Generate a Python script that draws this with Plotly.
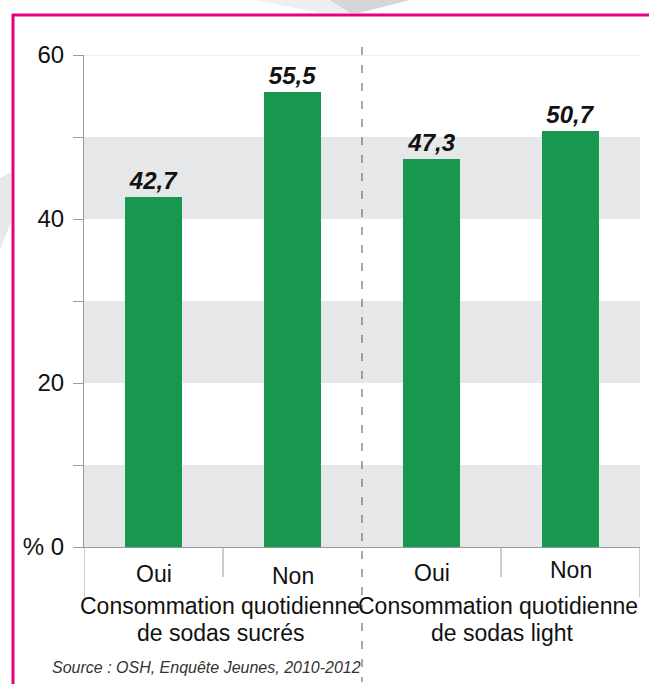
import plotly.graph_objects as go

# Data
categories = ["Oui", "Non", "Oui", "Non"]
values = [42.7, 55.5, 47.3, 50.7]
value_labels = ["42,7", "55,5", "47,3", "50,7"]
group_titles = [
    ("Consommation quotidienne", "de sodas sucrés"),
    ("Consommation quotidienne", "de sodas light"),
]
y_ticks = [0, 10, 20, 30, 40, 50, 60]
y_ticktext = ["% 0", "", "20", "", "40", "", "60"]
bands = [(0, 10), (20, 30), (40, 50)]
source = "Source : OSH, Enquête Jeunes, 2010-2012"

W, H = 649, 684
L, R, T, B = 84, 9, 55, 137
PW, PH = W - L - R, H - T - B

GREEN = "#18974f"
AXIS = "#9a9a9a"
TEXT = "#111111"
FONT = "Liberation Sans, Arial, sans-serif"


def px(x):
    return (x - L) / PW


def py(y):
    return (H - B - y) / PH


fig = go.Figure()
fig.add_trace(go.Bar(
    x=list(range(len(values))),
    y=values,
    width=0.41,
    marker=dict(color=GREEN, line=dict(width=0)),
    text=value_labels,
    textposition="outside",
    textfont=dict(family=FONT, size=24, color=TEXT),
    texttemplate="<b><i>%{text}</i></b>",
    cliponaxis=False,
    hoverinfo="skip",
))

shapes = []
# alternating grey bands
for lo, hi in bands:
    shapes.append(dict(type="rect", xref="paper", yref="y", x0=0, x1=1, y0=lo, y1=hi,
                       fillcolor="#e6e7e8", line=dict(width=0), layer="below"))
# top grid line
shapes.append(dict(type="line", xref="paper", yref="y", x0=0, x1=1, y0=60, y1=60,
                   line=dict(color="#e0e0e0", width=1), layer="below"))
# category separators below the baseline
for xv, depth in [(-0.5, 597), (0.5, 577), (2.5, 577), (3.5, 597)]:
    shapes.append(dict(type="line", xref="x", yref="paper", x0=xv, x1=xv,
                       y0=0, y1=py(depth), line=dict(color=AXIS, width=1)))
# dashed divider between the two groups
shapes.append(dict(type="line", xref="x", yref="paper", x0=1.5, x1=1.5,
                   y0=py(47), y1=py(682), line=dict(color="#555555", width=1, dash="8px,10px")))
# frame
shapes.append(dict(type="line", xref="paper", yref="paper", x0=px(13), x1=px(13),
                   y0=py(14), y1=py(H + 5), line=dict(color="#e5007d", width=3)))
shapes.append(dict(type="line", xref="paper", yref="paper", x0=px(12), x1=px(W + 5),
                   y0=py(15), y1=py(15), line=dict(color="#e5007d", width=3)))
# grey decorative swooshes
def poly(pts):
    d = "M " + " L ".join(f"{px(a):.5f},{py(b):.5f}" for a, b in pts) + " Z"
    return d

shapes.append(dict(type="path", xref="paper", yref="paper",
                   path=poly([(255, 0), (410, 0), (360, 13), (320, 13)]),
                   fillcolor="#efefef", line=dict(width=0), layer="below"))
shapes.append(dict(type="path", xref="paper", yref="paper",
                   path=poly([(330, 0), (410, 0), (358, 13), (350, 13)]),
                   fillcolor="#d6d6d6", line=dict(width=0), layer="below"))
shapes.append(dict(type="path", xref="paper", yref="paper",
                   path=poly([(0, 178), (11, 172), (11, 222), (0, 250)]),
                   fillcolor="#e8e8e8", line=dict(width=0), layer="below"))

annotations = []
label_y = [574, 576, 573, 570]
for i, (c, yy) in enumerate(zip(categories, label_y)):
    annotations.append(dict(x=i, xref="x", y=py(yy), yref="paper", text=c, showarrow=False,
                            xanchor="center", yanchor="middle",
                            font=dict(family=FONT, size=23, color=TEXT)))
for g, (l1, l2) in enumerate(group_titles):
    xc = 0.5 + 2 * g
    annotations.append(dict(x=xc, xref="x", y=py(606), yref="paper", text=l1, showarrow=False,
                            xanchor="center", yanchor="middle", xshift=-3,
                            font=dict(family=FONT, size=23, color=TEXT)))
    annotations.append(dict(x=xc, xref="x", y=py(633), yref="paper", text=l2, showarrow=False,
                            xanchor="center", yanchor="middle", xshift=-3 + 4 * g,
                            font=dict(family=FONT, size=23, color=TEXT)))
annotations.append(dict(x=px(50), xref="paper", y=py(667), yref="paper", text=f"<i>{source}</i>",
                        showarrow=False, xanchor="left", yanchor="middle",
                        font=dict(family=FONT, size=16, color="#333333")))

fig.update_layout(
    width=W, height=H,
    margin=dict(l=L, r=R, t=T, b=B, pad=0),
    paper_bgcolor="white", plot_bgcolor="white",
    showlegend=False,
    shapes=shapes,
    annotations=annotations,
    xaxis=dict(range=[-0.5, 3.5], showticklabels=False, ticks="", showgrid=False,
               zeroline=False, showline=True, linecolor=AXIS, linewidth=1, fixedrange=True),
    yaxis=dict(range=[0, 60], tickvals=y_ticks, ticktext=y_ticktext, ticks="outside",
               ticklen=10, tickcolor=AXIS, tickwidth=1, showline=True, linecolor=AXIS,
               linewidth=1, showgrid=False, zeroline=False, ticklabelstandoff=4,
               tickfont=dict(family=FONT, size=24, color=TEXT), fixedrange=True),
    bargap=0,
)

fig.write_html("out.html")
